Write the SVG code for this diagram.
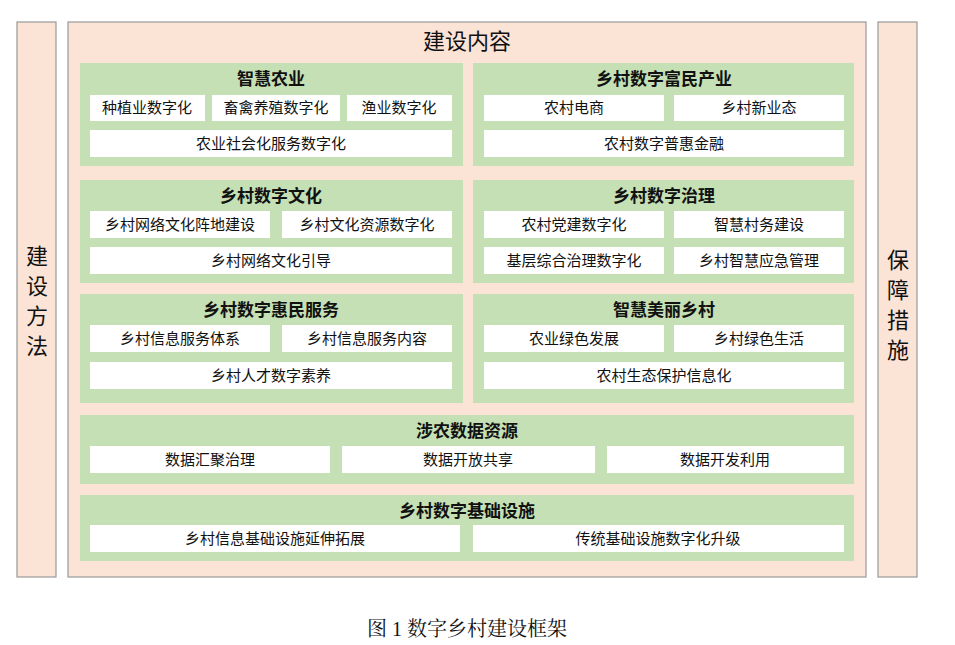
<svg xmlns="http://www.w3.org/2000/svg" width="955" height="645" viewBox="0 0 955 645">
<style>
.pk{fill:#fbe3d6;stroke:#999;stroke-width:1.2}
.gr{fill:#c5e0b4}
.wh{fill:#fff}
text{font-family:"Noto Sans CJK SC","Liberation Sans",sans-serif;fill:#111;text-anchor:middle}
.t{font-size:15px}
.h{font-size:17px;font-weight:bold}
.s{font-size:22px}
</style>
<rect width="955" height="645" fill="#fff"/>
<g id="left"><rect class="pk" x="17" y="22" width="39" height="555"/><text class="s" x="37" y="264">建</text><text class="s" x="37" y="294">设</text><text class="s" x="37" y="324">方</text><text class="s" x="37" y="354">法</text></g>
<g id="right"><rect class="pk" x="878" y="22" width="39" height="555"/><text class="s" x="898" y="268">保</text><text class="s" x="898" y="298">障</text><text class="s" x="898" y="328">措</text><text class="s" x="898" y="358">施</text></g>
<g id="main"><rect class="pk" x="68" y="22" width="798" height="555"/><text class="s" x="467" y="49">建设内容</text></g>
<g id="n1"><rect class="gr" x="80" y="63" width="383" height="103"/><text class="h" x="271" y="85">智慧农业</text>
<rect class="wh" x="90" y="95" width="115" height="26"/><text class="t" x="147" y="113">种植业数字化</text>
<rect class="wh" x="212" y="95" width="128" height="26"/><text class="t" x="276" y="113">畜禽养殖数字化</text>
<rect class="wh" x="347" y="95" width="105" height="26"/><text class="t" x="399" y="113">渔业数字化</text>
<rect class="wh" x="90" y="130" width="362" height="27"/><text class="t" x="271" y="149">农业社会化服务数字化</text></g>
<g id="n2"><rect class="gr" x="473" y="63" width="381" height="103"/><text class="h" x="664" y="85">乡村数字富民产业</text>
<rect class="wh" x="484" y="95" width="180" height="26"/><text class="t" x="574" y="113">农村电商</text>
<rect class="wh" x="674" y="95" width="170" height="26"/><text class="t" x="759" y="113">乡村新业态</text>
<rect class="wh" x="484" y="130" width="360" height="27"/><text class="t" x="664" y="149">农村数字普惠金融</text></g>
<g id="n3"><rect class="gr" x="80" y="180" width="383" height="103"/><text class="h" x="271" y="202">乡村数字文化</text>
<rect class="wh" x="90" y="211" width="180" height="27"/><text class="t" x="180" y="230">乡村网络文化阵地建设</text>
<rect class="wh" x="282" y="211" width="170" height="27"/><text class="t" x="367" y="230">乡村文化资源数字化</text>
<rect class="wh" x="90" y="247" width="362" height="27"/><text class="t" x="271" y="266">乡村网络文化引导</text></g>
<g id="n4"><rect class="gr" x="473" y="180" width="381" height="103"/><text class="h" x="664" y="202">乡村数字治理</text>
<rect class="wh" x="484" y="211" width="180" height="27"/><text class="t" x="574" y="230">农村党建数字化</text>
<rect class="wh" x="674" y="211" width="170" height="27"/><text class="t" x="759" y="230">智慧村务建设</text>
<rect class="wh" x="484" y="247" width="180" height="27"/><text class="t" x="574" y="266">基层综合治理数字化</text>
<rect class="wh" x="674" y="247" width="170" height="27"/><text class="t" x="759" y="266">乡村智慧应急管理</text></g>
<g id="n5"><rect class="gr" x="80" y="294" width="383" height="109"/><text class="h" x="271" y="316">乡村数字惠民服务</text>
<rect class="wh" x="90" y="325" width="180" height="27"/><text class="t" x="180" y="344">乡村信息服务体系</text>
<rect class="wh" x="282" y="325" width="170" height="27"/><text class="t" x="367" y="344">乡村信息服务内容</text>
<rect class="wh" x="90" y="362" width="362" height="27"/><text class="t" x="271" y="381">乡村人才数字素养</text></g>
<g id="n6"><rect class="gr" x="473" y="294" width="381" height="109"/><text class="h" x="664" y="316">智慧美丽乡村</text>
<rect class="wh" x="484" y="325" width="180" height="27"/><text class="t" x="574" y="344">农业绿色发展</text>
<rect class="wh" x="674" y="325" width="170" height="27"/><text class="t" x="759" y="344">乡村绿色生活</text>
<rect class="wh" x="484" y="362" width="360" height="27"/><text class="t" x="664" y="381">农村生态保护信息化</text></g>
<g id="n7"><rect class="gr" x="80" y="415" width="774" height="69"/><text class="h" x="467" y="437">涉农数据资源</text>
<rect class="wh" x="90" y="446" width="240" height="27"/><text class="t" x="210" y="465">数据汇聚治理</text>
<rect class="wh" x="342" y="446" width="253" height="27"/><text class="t" x="468" y="465">数据开放共享</text>
<rect class="wh" x="607" y="446" width="237" height="27"/><text class="t" x="725" y="465">数据开发利用</text></g>
<g id="n8"><rect class="gr" x="80" y="495" width="774" height="66"/><text class="h" x="467" y="517">乡村数字基础设施</text>
<rect class="wh" x="90" y="525" width="370" height="27"/><text class="t" x="275" y="544">乡村信息基础设施延伸拓展</text>
<rect class="wh" x="473" y="525" width="371" height="27"/><text class="t" x="658" y="544">传统基础设施数字化升级</text></g>
<g id="connectors"/>
<text x="467" y="636" style="font-family:'Liberation Serif','Noto Serif CJK SC','Noto Sans CJK SC',serif;font-size:20px">图 1  数字乡村建设框架</text>
</svg>
